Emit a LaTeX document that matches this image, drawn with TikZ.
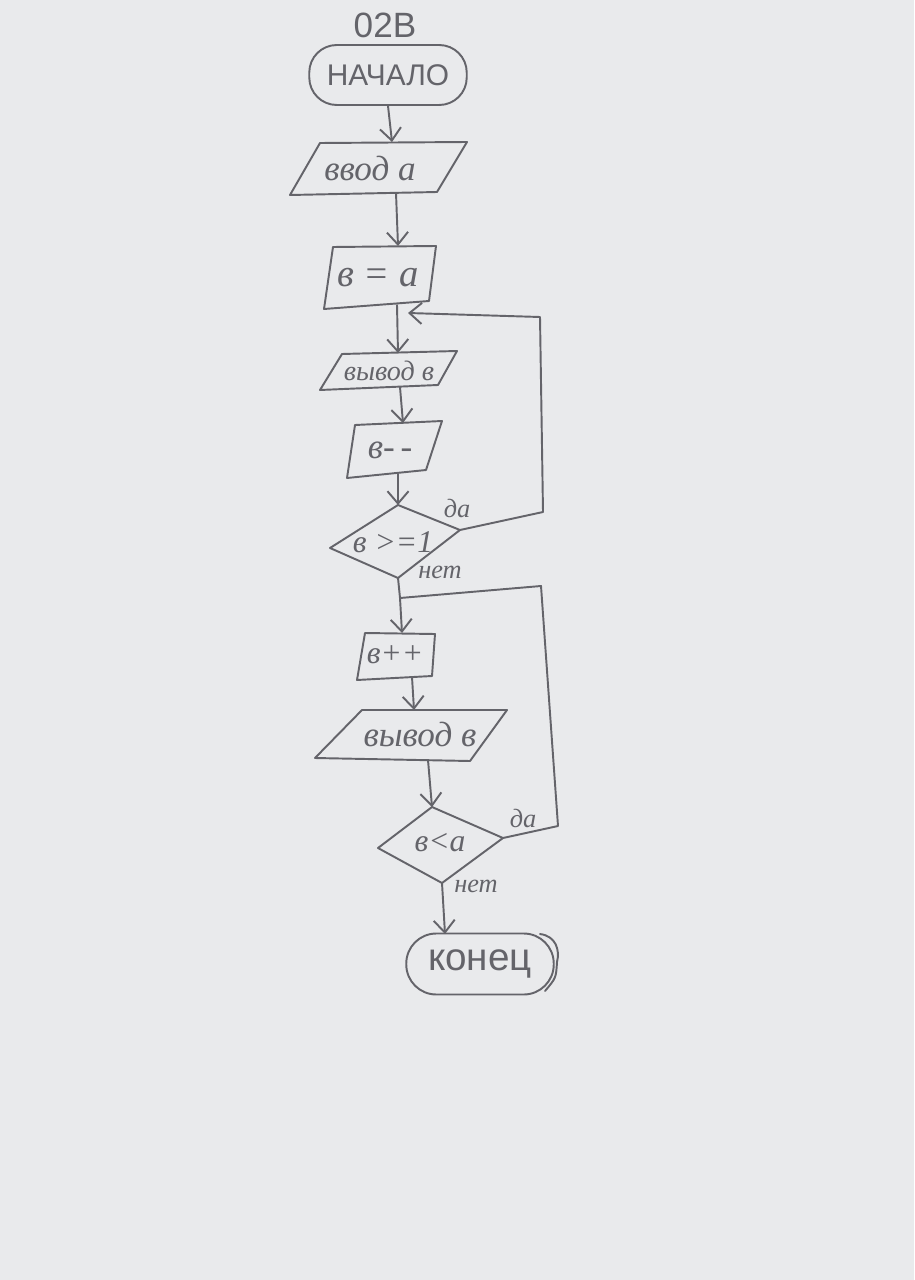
\documentclass[tikz,border=0pt]{standalone}
\usepackage{fontspec}
\setmainfont{Liberation Serif}
\newfontfamily\hand{Liberation Sans}
\usetikzlibrary{arrows.meta}
\definecolor{paper}{RGB}{233,234,236}
\definecolor{pencil}{RGB}{100,100,106}
\begin{document}
\begin{tikzpicture}[x=0.02cm,y=-0.02cm,
  line/.style={draw=pencil,line width=1.1pt,line join=round,line cap=round},
  arr/.style={line,-{Straight Barb[length=7pt,width=12pt]}},
  txt/.style={text=pencil,inner sep=0pt},
  lab/.style={txt,font=\itshape\fontsize{15}{15}\selectfont},
  term/.style={line,txt,rounded corners=0.55cm,font=\hand\fontsize{17}{17}\selectfont},
]
\fill[paper] (0,0) rectangle (914,1280);
\useasboundingbox (0,0) rectangle (914,1280);

% title
\node[txt,font=\hand\fontsize{20}{20}\selectfont] (title) at (385,25) {02В};

% start
\node[term,minimum width=3.15cm,minimum height=1.2cm] (start) at (388,75) {НАЧАЛО};

% input a
\coordinate (inA) at (320,143);
\coordinate (inB) at (467,142);
\coordinate (inC) at (437,192);
\coordinate (inD) at (290,195);
\draw[line] (inA)--(inB)--(inC)--(inD)--cycle;
\node[txt,font=\itshape\fontsize{20}{20}\selectfont] (input) at (370,168) {ввод а};
\coordinate (inTop) at (392,142);
\coordinate (inBot) at (396,193);

% b = a
\coordinate (asA) at (333,247);
\coordinate (asB) at (436,246);
\coordinate (asC) at (429,301);
\coordinate (asD) at (324,309);
\draw[line] (asA)--(asB)--(asC)--(asD)--cycle;
\node[txt,font=\itshape\fontsize{22}{22}\selectfont] (assign) at (378,278) {в = а};
\coordinate (asTop) at (398,246);
\coordinate (asBot) at (397,305);
\coordinate (asIn) at (408,313);

% output b (small)
\coordinate (o1A) at (342,354);
\coordinate (o1B) at (457,351);
\coordinate (o1C) at (438,385);
\coordinate (o1D) at (320,390);
\draw[line] (o1A)--(o1B)--(o1C)--(o1D)--cycle;
\node[txt,font=\itshape\fontsize{16}{16}\selectfont] (out1) at (389,371) {вывод в};
\coordinate (o1Top) at (398,353);
\coordinate (o1Bot) at (400,387);

% b--
\coordinate (decA) at (355,425);
\coordinate (decB) at (442,421);
\coordinate (decC) at (426,470);
\coordinate (decD) at (347,478);
\draw[line] (decA)--(decB)--(decC)--(decD)--cycle;
\node[txt,font=\itshape\fontsize{20}{20}\selectfont] (dec) at (390,450) {в-\,-};
\coordinate (decTop) at (403,423);
\coordinate (decBot) at (398,474);

% decision b>=1
\coordinate (d1T) at (398,505);
\coordinate (d1R) at (460,530);
\coordinate (d1B) at (398,578);
\coordinate (d1L) at (330,548);
\draw[line] (d1T)--(d1R)--(d1B)--(d1L)--cycle;
\node[txt,font=\itshape\fontsize{18}{18}\selectfont] (cond1) at (393,542) {в >=1};
\node[lab] (yes1) at (457,508) {да};
\node[lab] (no1) at (440,572) {нет};

% b++
\coordinate (incA) at (365,633);
\coordinate (incB) at (435,634);
\coordinate (incC) at (432,676);
\coordinate (incD) at (357,680);
\draw[line] (incA)--(incB)--(incC)--(incD)--cycle;
\node[txt,font=\itshape\fontsize{18}{18}\selectfont] (inc) at (395,655) {в++};
\coordinate (incTop) at (402,633);
\coordinate (incBot) at (412,677);

% output b (large)
\coordinate (o2A) at (362,710);
\coordinate (o2B) at (507,710);
\coordinate (o2C) at (470,761);
\coordinate (o2D) at (315,758);
\draw[line] (o2A)--(o2B)--(o2C)--(o2D)--cycle;
\node[txt,font=\itshape\fontsize{20}{20}\selectfont] (out2) at (420,734) {вывод в};
\coordinate (o2Top) at (414,710);
\coordinate (o2Bot) at (428,760);

% decision b<a
\coordinate (d2T) at (432,807);
\coordinate (d2R) at (503,838);
\coordinate (d2B) at (442,883);
\coordinate (d2L) at (378,848);
\draw[line] (d2T)--(d2R)--(d2B)--(d2L)--cycle;
\node[txt,font=\itshape\fontsize{18}{18}\selectfont] (cond2) at (440,843) {в<а};
\node[lab] (yes2) at (523,818) {да};
\node[lab] (no2) at (476,886) {нет};

% end
\node[term,font=\hand\fontsize{22}{22}\selectfont,minimum width=2.95cm,minimum height=1.22cm,rounded corners=0.6cm] (end) at (480,964) {конец};
\coordinate (endX1) at (540,934);
\coordinate (endX2) at (557,962);
\coordinate (endX3) at (545,991);
\draw[line] (endX1) .. controls (556,936) and (560,950) .. (endX2) .. controls (556,978) .. (endX3);
\coordinate (endTop) at (445,934);

% connectors
\draw[arr] (start.south) -- (inTop);
\draw[arr] (inBot) -- (asTop);
\draw[arr] (asBot) -- (o1Top);
\draw[arr] (o1Bot) -- (decTop);
\draw[arr] (decBot) -- (d1T);
\coordinate (l1a) at (543,512);
\coordinate (l1b) at (540,317);
\draw[arr] (d1R) -- (l1a) -- (l1b) -- (asIn);
\coordinate (join) at (400,598);
\draw[arr] (d1B) -- (join) -- (incTop);
\draw[arr] (incBot) -- (o2Top);
\draw[arr] (o2Bot) -- (d2T);
\coordinate (l2a) at (558,826);
\coordinate (l2b) at (541,586);
\draw[line] (d2R) -- (l2a) -- (l2b) -- (join);
\draw[arr] (d2B) -- (endTop);
\end{tikzpicture}
\end{document}
